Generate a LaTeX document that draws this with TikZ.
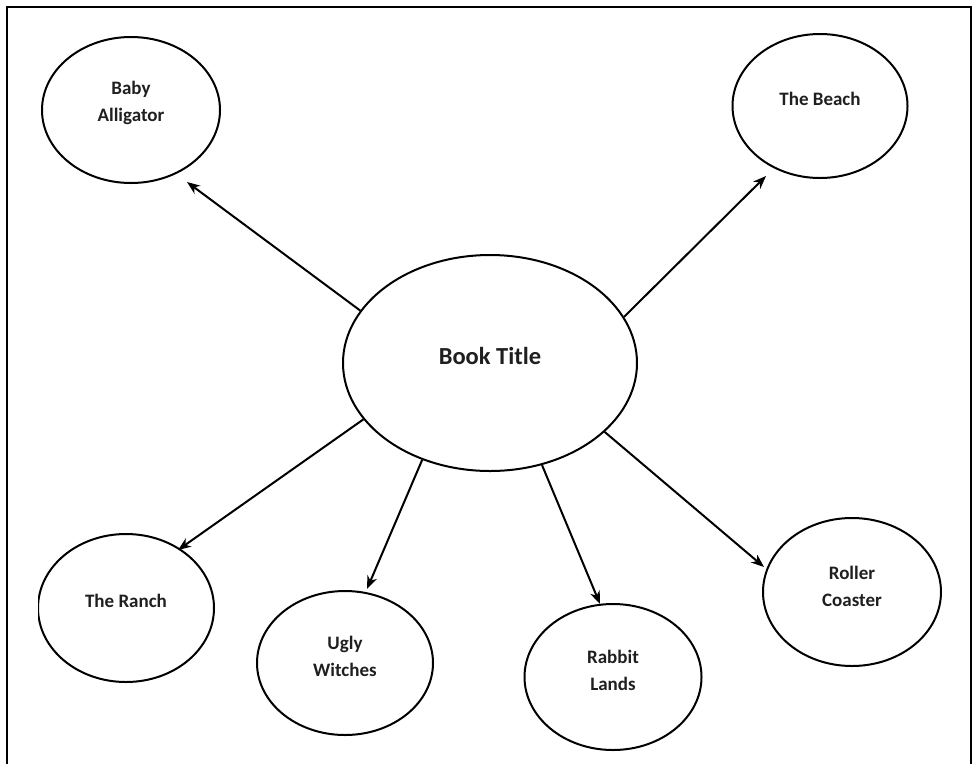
\documentclass[tikz,border=0pt]{standalone}
\usepackage{fontspec}
\setmainfont{Carlito}
\usetikzlibrary{shapes.geometric,arrows.meta}
\begin{document}
\begin{tikzpicture}[x=1pt,y=-1pt,
  bubble/.style={draw=black,line width=2pt,ellipse,inner sep=0pt,
    minimum width=176pt,minimum height=146pt},
  bigbubble/.style={draw=black,line width=2pt,ellipse,inner sep=0pt,
    minimum width=294pt,minimum height=216pt},
  txt/.style={font=\bfseries\fontsize{19}{27}\selectfont,align=center,text=black!88,inner sep=0pt},
  bigtxt/.style={font=\bfseries\fontsize{24.5}{30}\selectfont,text=black!88,inner sep=0pt},
  arr/.style={line width=2pt,-{Stealth[length=13pt,width=10pt,inset=4pt]}}]
\useasboundingbox (0,0) rectangle (977,764);
\draw[line width=1.5pt] (7,764) -- (7,7) -- (971,7) -- (971,764);

\node[bigbubble] (bt) at (490,363) {};
\node[bigtxt] (btt) at (490,356) {Book Title};

\node[bubble,minimum width=178pt] (ba) at (131,110) {};
\node[txt] (bat) at (131,103) {Baby\\Alligator};

\node[bubble,minimum width=175pt,minimum height=144pt] (be) at (820,106) {};
\node[txt] (bet) at (820,99) {The Beach};

\begin{scope}
\clip (38,0) rectangle (977,764);
\node[bubble,minimum width=176pt,minimum height=148pt] (ra) at (126,608) {};
\end{scope}
\node[txt] (rat) at (126,601) {The Ranch};

\node[bubble,minimum width=176pt,minimum height=144pt] (uw) at (345,663) {};
\node[txt] (uwt) at (345,656) {Ugly\\Witches};

\node[bubble,minimum width=177pt] (rl) at (613,677) {};
\node[txt] (rlt) at (613,670) {Rabbit\\Lands};

\node[bubble,minimum width=178pt,minimum height=148pt] (rc) at (852,592) {};
\node[txt] (rct) at (852,586) {Roller\\Coaster};

\coordinate (t1) at (187,182);
\coordinate (t2) at (766,176);
\coordinate (t3) at (178,550);
\coordinate (t4) at (367,589);
\coordinate (t5) at (600,604);
\coordinate (t6) at (764,567);

\draw[arr] (bt.158) -- (t1);
\draw[arr] (bt.19) -- (t2);
\draw[arr] (bt.204) -- (t3);
\draw[arr] (bt.235) -- (t4);
\draw[arr] (bt.297) -- (t5);
\draw[arr] (bt.329) -- (t6);
\end{tikzpicture}
\end{document}
